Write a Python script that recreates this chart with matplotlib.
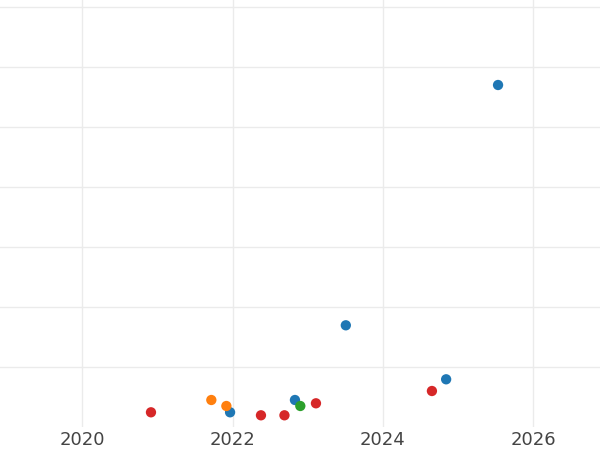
import matplotlib
matplotlib.use("Agg")
import matplotlib.pyplot as plt
import matplotlib.dates as mdates
import datetime as dt

# data
dates = ["2020-12-01", "2021-09-20", "2021-12-02", "2021-12-20", "2022-05-19",
         "2022-09-10", "2022-10-31", "2022-11-26", "2023-02-10", "2023-07-05",
         "2024-08-26", "2024-11-03", "2025-07-13"]
values = [0.245, 0.45, 0.35, 0.245, 0.195, 0.195, 0.45, 0.35, 0.395, 1.695,
          0.6, 0.795, 5.7]
groups = ["D", "B", "B", "A", "D", "D", "A", "C", "D", "A", "D", "A", "A"]
group_colors = {"A": "#1f77b4", "B": "#ff7f0e", "C": "#2ca02c", "D": "#d62728"}

x = [dt.datetime.strptime(d, "%Y-%m-%d") for d in dates]

fig = plt.figure(figsize=(6, 4.5), dpi=100)
ax = fig.add_axes([0, 23 / 450, 1, 427 / 450])

for g in ["A", "B", "C", "D"]:
    xs = [xi for xi, gi in zip(x, groups) if gi == g]
    ys = [yi for yi, gi in zip(values, groups) if gi == g]
    ax.scatter(xs, ys, s=55, color=group_colors[g], edgecolors="none", zorder=3)

ax.set_xlim(dt.datetime(2018, 11, 29), dt.datetime(2026, 11, 20))
ax.set_ylim(0, 427 / 60)
ax.set_yticks([1, 2, 3, 4, 5, 6, 7])
ax.xaxis.set_major_locator(mdates.YearLocator(2))
ax.xaxis.set_major_formatter(mdates.DateFormatter("%Y"))
ax.grid(True, color="#ebebeb", linewidth=1)
ax.set_axisbelow(True)
ax.tick_params(axis="both", length=0, colors="#444444", labelsize=13, pad=3)
ax.tick_params(axis="y", labelleft=False)
for s in ax.spines.values():
    s.set_visible(False)

fig.savefig("out.png", dpi=100)
